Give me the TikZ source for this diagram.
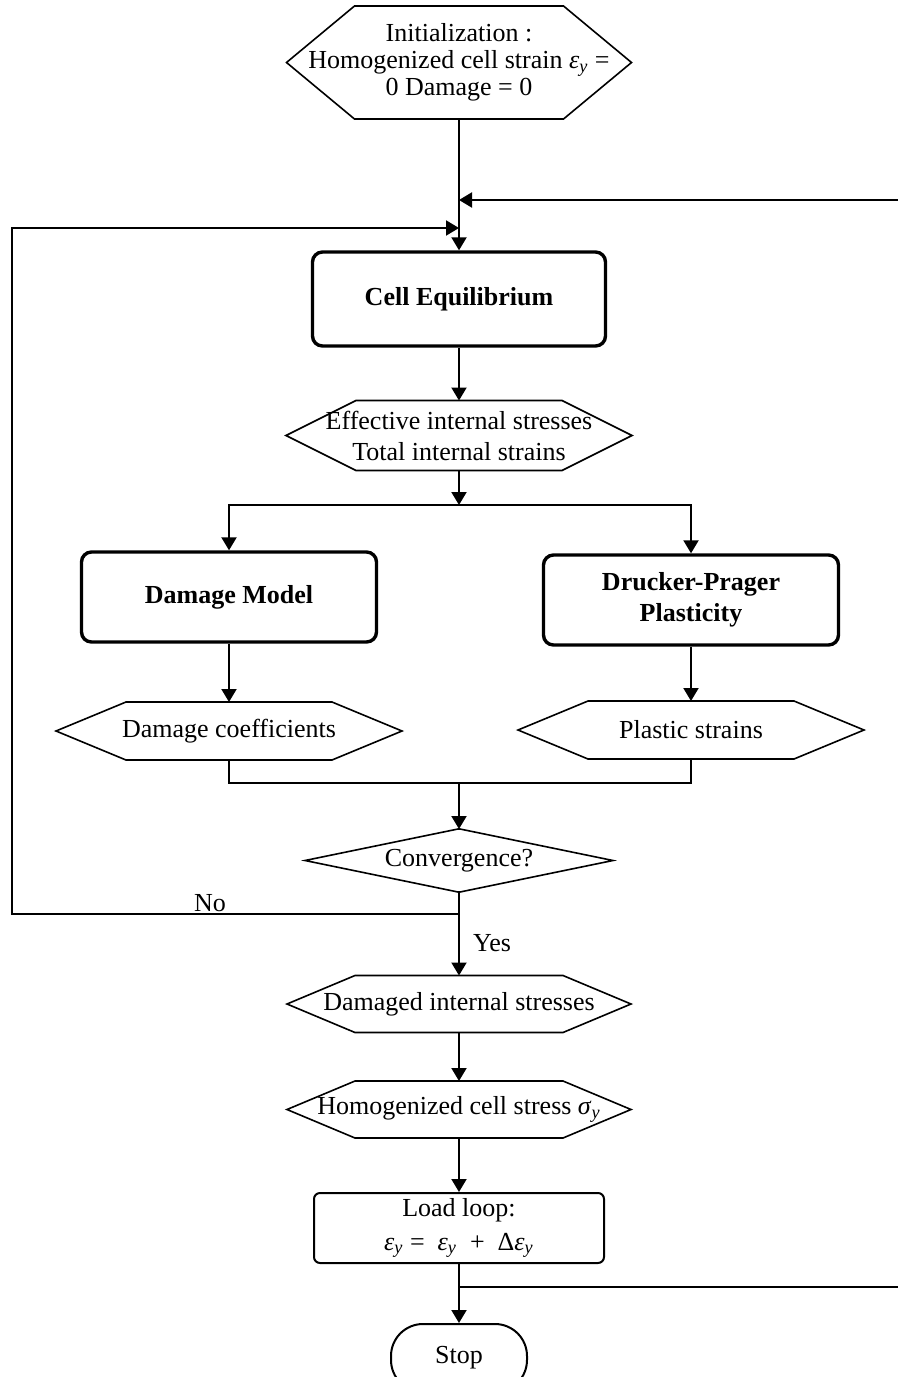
\documentclass[tikz,border=0pt]{standalone}
\usepackage{fontspec}
\setmainfont{Liberation Serif}
\usetikzlibrary{arrows.meta, calc}

\newcommand{\epsy}{\textit{ε}\textsubscript{\textit{y}}}

\begin{document}
\begin{tikzpicture}[x=.5pt, y=-.5pt, >={Triangle[length=6.5pt,width=7.5pt]},
         line width=1pt,
         txt/.style={inner sep=0pt, align=center,
         % Font
         font=\fontsize{13}{15.5}\selectfont},
         box/.style={txt,
         % The shape:
         rectangle, rounded corners=5pt,
         % The border
         line width=1.7pt, draw=black,
         % Font
         font=\fontsize{13}{15.5}\selectfont\bfseries},
         hexa/.style={txt, rectangle},
         hexline/.style={line width=.8pt}]
         \clip (0,0) rectangle (898,1377);
         % boxes and hexagons
         \node[hexa, minimum width=171.5pt, minimum height=55.5pt, font=\fontsize{13}{13.5}\selectfont] (init) at (459,62.5) {Initialization :\\Homogenized cell strain \epsy{} =\\0 Damage = 0};
         \node[box, minimum width=146.5pt, minimum height=47pt] (cell) at (459,299) {Cell Equilibrium};
         \node[hexa, minimum width=172pt, minimum height=34pt] (eff) at (459,435.5) {Effective internal stresses\\Total internal strains};
         \node[box, minimum width=147.5pt, minimum height=45pt] (dmg) at (229,597) {Damage Model};
         \node[box, minimum width=147.5pt, minimum height=45pt] (dp) at (691,600) {Drucker-Prager\\Plasticity};
         \node[hexa, minimum width=172pt, minimum height=28pt] (dcoef) at (229,731) {Damage coefficients};
         \node[hexa, minimum width=172pt, minimum height=28pt] (pstr) at (691,730) {Plastic strains};
         \node[hexa, minimum width=153pt, minimum height=30.5pt] (conv) at (459,860.5) {Convergence?};
         \node[hexa, minimum width=171pt, minimum height=27.5pt] (dstr) at (459,1004) {Damaged internal stresses};
         \node[hexa, minimum width=171pt, minimum height=27.5pt] (hstr) at (459,1109.5) {Homogenized cell stress \textit{σ}\textsubscript{\textit{y}}};
         \node[txt, draw, rounded corners=3pt, minimum width=145pt, minimum height=35pt, font=\fontsize{13}{17}\selectfont] (load) at (459,1228) {Load loop:\\\epsy{} =~ \epsy{} ~+~ Δ\epsy};
         \node[txt, draw, rounded corners=16pt, minimum width=68pt, minimum height=34pt] (stop) at (459,1358) {Stop};
         \node[txt] (no) at (210,903) {No};
         \node[txt] (yes) at (492,943) {Yes};
         \foreach \n/\c in {init/68, eff/70, dcoef/70, pstr/70, conv/153, dstr/68, hstr/68} {
             \draw[hexline] (\n.west) -- ($(\n.north west)+(\c,0)$) -- ($(\n.north east)+(-\c,0)$) -- (\n.east)
                 -- ($(\n.south east)+(-\c,0)$) -- ($(\n.south west)+(\c,0)$) -- cycle;
         };
         % joints
         \coordinate (rin) at (898,200);
         \coordinate (j1) at (459,200);
         \coordinate (j2) at (459,228);
         \coordinate (split) at (459,505);
         \coordinate (merge) at (459,783);
         \coordinate (nojoin) at (459,914);
         \coordinate (lbot) at (12,914);
         \coordinate (rout) at (459,1287);
         \coordinate (rend) at (898,1287);
         % connectors
         \draw[->] (init.south) -- (cell.north);
         \draw[->] (rin) -- (j1);
         \draw[->] (nojoin) -- (lbot) |- (j2);
         \draw[->] (cell.south) -- (eff.north);
         \draw[->] (eff.south) -- (split);
         \draw[->] (split) -| (dmg.north);
         \draw[->] (split) -| (dp.north);
         \draw[->] (dmg.south) -- (dcoef.north);
         \draw[->] (dp.south) -- (pstr.north);
         \draw (dcoef.south) |- (merge) -| (pstr.south);
         \draw[->] (merge) -- (conv.north);
         \draw[->] (conv.south) -- (dstr.north);
         \draw[->] (dstr.south) -- (hstr.north);
         \draw[->] (hstr.south) -- (load.north);
         \draw[->] (load.south) -- (stop.north);
         \draw (rout) -- (rend);
      \end{tikzpicture}
\end{document}
